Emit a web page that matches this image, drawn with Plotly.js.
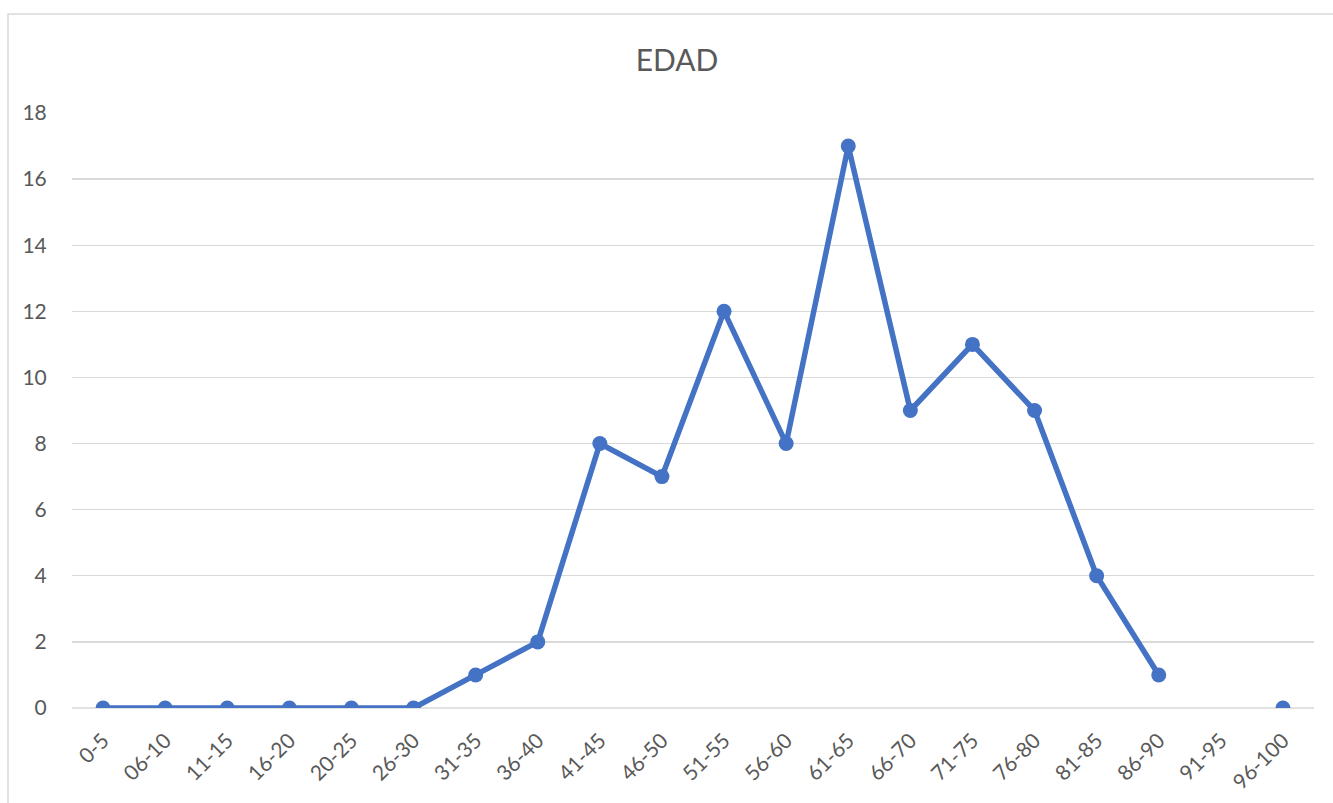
<!DOCTYPE html>
<html>
<head>
<meta charset="utf-8">
<script src="https://cdn.plot.ly/plotly-3.0.1.min.js"></script>
<style>html,body{margin:0;padding:0;background:#fff;}#chart{width:1333px;height:803px;}</style>
</head>
<body>
<div id="chart"></div>
<script>
const categories = ["0-5","06-10","11-15","16-20","20-25","26-30","31-35","36-40","41-45","46-50","51-55","56-60","61-65","66-70","71-75","76-80","81-85","86-90","91-95","96-100"];
const values = [0,0,0,0,0,0,1,2,8,7,12,8,17,9,11,9,4,1,null,0];
const yTicks = [0,2,4,6,8,10,12,14,16,18];

const trace = {
  x: categories,
  y: values,
  type: 'scatter',
  mode: 'lines+markers',
  connectgaps: false,
  line: {color: '#4472C4', width: 5.5},
  marker: {color: '#4472C4', size: 15},
  hoverinfo: 'x+y'
};

const W = 1333, H = 803, L = 72, R = 19, T = 113, B = 95;
const pw = W - L - R, ph = H - T - B;
const plotBottom = H - B;

const layout = {
  width: W, height: H,
  margin: {l: L, r: R, t: T, b: B},
  paper_bgcolor: '#ffffff',
  plot_bgcolor: '#ffffff',
  font: {family: 'Lato, "Open Sans", sans-serif', color: '#595959'},
  title: {text: 'EDAD', font: {size: 30, color: '#595959'}, x: 677/W, xref: 'container', xanchor: 'center', y: 1 - 60/H, yref: 'container', yanchor: 'middle'},
  showlegend: false,
  xaxis: {
    type: 'category',
    range: [-0.5, 19.5],
    tickangle: -45,
    tickfont: {size: 21, color: '#595959'},
    showgrid: false,
    zeroline: false,
    showline: false,
    ticks: 'outside', ticklen: 11, tickcolor: 'rgba(0,0,0,0)'
  },
  yaxis: {
    range: [0, 18],
    tickvals: yTicks,
    tickfont: {size: 21, color: '#595959'},
    showgrid: true,
    gridcolor: '#d9d9d9',
    gridwidth: 1.3,
    zeroline: false,
    showline: false,
    ticks: 'outside', ticklen: 20, tickcolor: 'rgba(0,0,0,0)'
  },
  shapes: [
    {type: 'line', xref: 'paper', yref: 'paper', x0: 0, x1: 1, y0: 0, y1: 0, line: {color: '#d9d9d9', width: 1.3}, layer: 'below'},
    {type: 'rect', xref: 'paper', yref: 'paper',
     x0: (8 - L)/pw, x1: (1345 - L)/pw, y0: (plotBottom - 815)/ph, y1: (plotBottom - 14)/ph,
     line: {color: '#d9d9d9', width: 1.5}, fillcolor: 'rgba(0,0,0,0)', layer: 'above'}
  ]
};

Plotly.newPlot('chart', [trace], layout, {displayModeBar: false, staticPlot: true});
</script>
</body>
</html>
